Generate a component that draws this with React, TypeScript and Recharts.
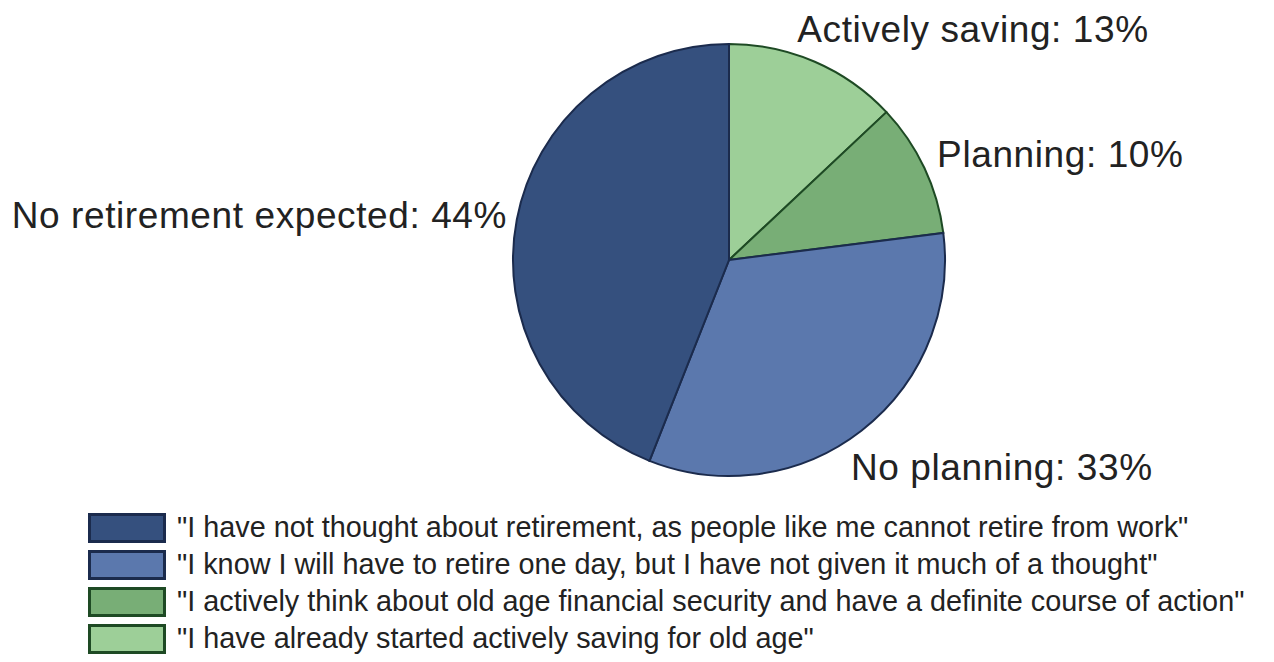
import { PieChart, Pie, Cell, Legend } from "recharts";

const categories = ["Actively saving", "Planning", "No planning", "No retirement expected"];
const shares = [13, 10, 33, 44];
const statements = [
  "\"I have already started actively saving for old age\"",
  "\"I actively think about old age financial security and have a definite course of action\"",
  "\"I know I will have to retire one day, but I have not given it much of a thought\"",
  "\"I have not thought about retirement, as people like me cannot retire from work\"",
];

const fills = ["#9dcf98", "#78ae76", "#5b78ad", "#35507e"];
const strokes = ["#1e4a24", "#1e4a24", "#1b2b4d", "#1b2b4d"];

const data = categories.map((name, i) => ({ name, value: shares[i] }));

// nudges so labels sit where the original put them
const labelNudge = [
  { dx: -23, dy: -7 },
  { dx: 0, dy: 5 },
  { dx: -19, dy: 38 },
  { dx: 4, dy: 11 },
];

const RADIAN = Math.PI / 180;

const renderLabel = (props: any) => {
  const { cx, cy, midAngle, outerRadius, index, name, value } = props;
  const r = outerRadius + 14;
  const x = cx + r * Math.cos(-midAngle * RADIAN) + labelNudge[index].dx;
  const y = cy + r * Math.sin(-midAngle * RADIAN) + labelNudge[index].dy;
  const right = x > cx;
  return (
    <text
      x={x}
      y={y}
      textAnchor={right ? "start" : "end"}
      fill="#222"
      fontSize={37}
      letterSpacing={0.6}
      fontFamily="'Liberation Sans', Arial, sans-serif"
    >
      {`${name}: ${value}%`}
    </text>
  );
};

// legend lists the slices bottom-up (largest first), like the original
const LegendBox = () => {
  const order = categories.map((_, i) => i).reverse();
  return (
    <div style={{ fontFamily: "'Liberation Sans', Arial, sans-serif", textAlign: "left" }}>
      {order.map((i) => (
        <div key={categories[i]} style={{ display: "flex", alignItems: "center", height: 37 }}>
          <div
            style={{
              width: 72,
              height: 24,
              background: fills[i],
              border: `3px solid ${strokes[i]}`,
              marginRight: 11,
              flexShrink: 0,
            }}
          />
          <span style={{ fontSize: 28.8, color: "#222", whiteSpace: "nowrap" }}>
            {statements[i]}
          </span>
        </div>
      ))}
    </div>
  );
};

export default function App() {
  return (
    <div style={{ position: "absolute", left: 0, top: 0, background: "#fff" }}>
      <PieChart width={1274} height={662} margin={{ top: 0, right: 0, bottom: 0, left: 0 }}>
        <Pie
          data={data}
          dataKey="value"
          nameKey="name"
          cx={729}
          cy={260}
          outerRadius={216}
          startAngle={90}
          endAngle={-270}
          label={renderLabel}
          labelLine={false}
          isAnimationActive={false}
        >
          {data.map((d, i) => (
            <Cell key={d.name} fill={fills[i]} stroke={strokes[i]} strokeWidth={2} />
          ))}
        </Pie>
        <Legend
          layout="horizontal"
          verticalAlign="bottom"
          align="left"
          content={<LegendBox />}
          wrapperStyle={{ top: 509, left: 88, width: 1180, bottom: "auto" }}
        />
      </PieChart>
    </div>
  );
}
